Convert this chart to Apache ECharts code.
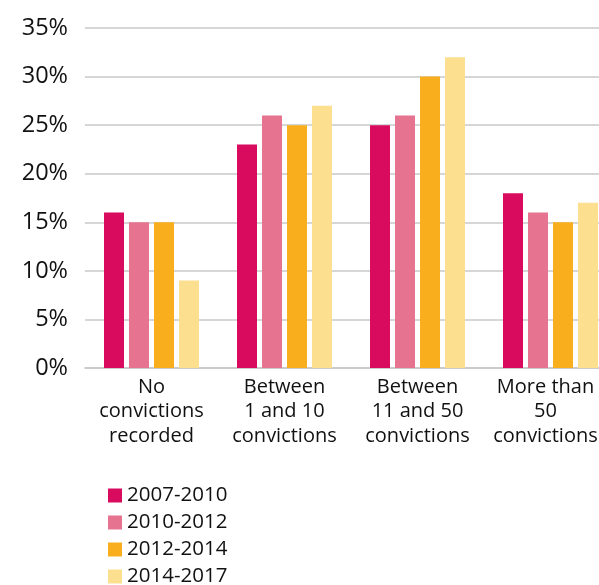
<!DOCTYPE html>
<html>
<head>
<meta charset="utf-8">
<script src="https://cdn.jsdelivr.net/npm/echarts@6/dist/echarts.min.js"></script>
<style>
  html, body { margin: 0; padding: 0; background: #fff; }
  #chart { width: 599px; height: 585px; }
</style>
</head>
<body>
<div id="chart"></div>
<script>
// Share of offenders by number of prior convictions, per period
const categories = ['No\nconvictions\nrecorded', 'Between\n1 and 10\nconvictions', 'Between\n11 and 50\nconvictions', 'More than\n50\nconvictions'];
const periods = ['2007-2010', '2010-2012', '2012-2014', '2014-2017'];
const v2007_2010 = [16, 23, 25, 18];
const v2010_2012 = [15, 26, 26, 16];
const v2012_2014 = [15, 25, 30, 15];
const v2014_2017 = [9, 27, 32, 17];
const yTicks = [0, 5, 10, 15, 20, 25, 30, 35];

const colors = ['#D80B5E', '#E67390', '#F9AE1E', '#FDDF90'];
const values = [v2007_2010, v2010_2012, v2012_2014, v2014_2017];
const fontFamily = '"Open Sans", "Noto Sans", sans-serif';

// the last category label is nudged left so it stays inside the canvas
const categoryItems = categories.map((c, i) =>
  i === categories.length - 1
    ? { value: c, textStyle: { padding: [0, 10, 0, 0] } }
    : c
);

const chart = echarts.init(document.getElementById('chart'), null, { renderer: 'canvas' });
chart.setOption({
  animation: false,
  color: colors,
  // plot area runs past the right edge of the canvas
  grid: { left: 85, width: 532, top: 28, height: 340, containLabel: false, outerBoundsMode: 'none' },
  legend: {
    orient: 'vertical',
    left: 103,
    top: 480,
    height: 200,
    itemWidth: 14,
    itemHeight: 14,
    itemGap: 6,
    icon: 'rect',
    textStyle: { fontFamily, fontSize: 20.5, color: '#111', padding: [0, 0, 0, 0] },
    data: periods
  },
  xAxis: {
    type: 'category',
    data: categoryItems,
    axisLine: { show: true, lineStyle: { color: '#c8c8c8', width: 1.5 } },
    axisTick: { show: false },
    axisLabel: { fontFamily, fontSize: 20, color: '#111', lineHeight: 24.5, margin: 7, interval: 0 }
  },
  yAxis: {
    type: 'value',
    min: yTicks[0],
    max: yTicks[yTicks.length - 1],
    interval: 5,
    axisLine: { show: false },
    axisTick: { show: false },
    splitLine: { lineStyle: { color: '#c8c8c8', width: 1.5 } },
    axisLabel: { fontFamily, fontSize: 23.5, color: '#111', margin: 17, formatter: '{value}%' }
  },
  series: periods.map((name, i) => ({
    name,
    type: 'bar',
    data: values[i],
    barWidth: 20,
    barGap: '25%',
    itemStyle: { color: colors[i] }
  }))
});
</script>
</body>
</html>
